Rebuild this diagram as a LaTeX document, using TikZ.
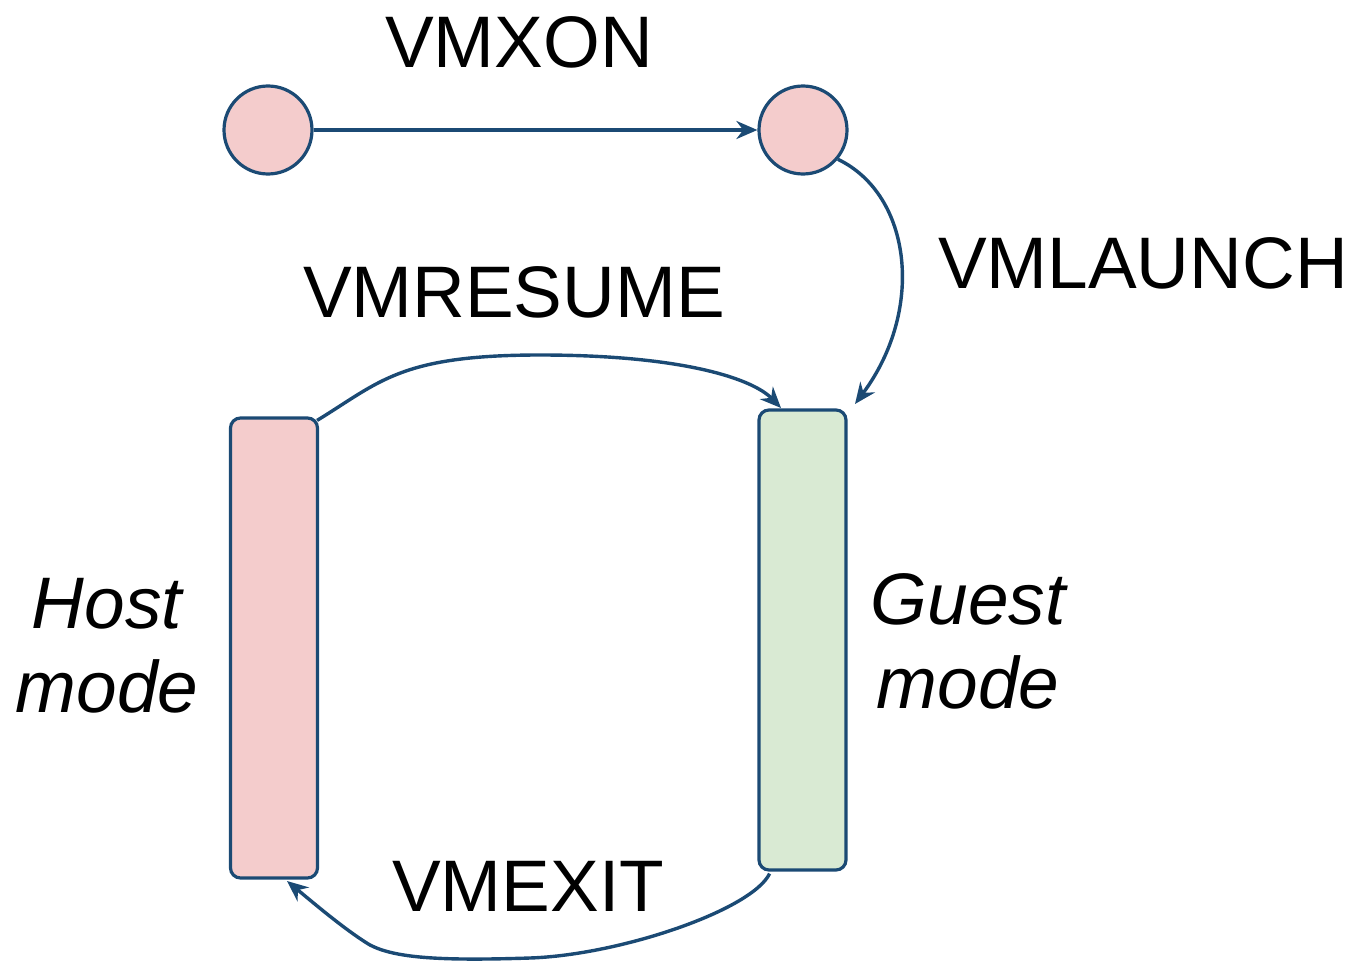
\documentclass[tikz,border=0pt]{standalone}
\usepackage{fontspec}
\setmainfont{Liberation Sans}
\usetikzlibrary{arrows.meta}
\definecolor{edge}{HTML}{1B4A74}
\definecolor{pinkfill}{HTML}{F4CCCC}
\definecolor{greenfill}{HTML}{D9EAD3}
\tikzset{
  state/.style={circle,draw=edge,line width=3.2pt,fill=pinkfill,minimum size=88pt,inner sep=0pt},
  modebox/.style={rectangle,rounded corners=10pt,draw=edge,line width=3.2pt,minimum width=87pt,minimum height=460pt,inner sep=0pt},
  conn/.style={draw=edge,line width=3.4pt,-{Stealth[length=21pt,width=18pt]}},
  lbl/.style={font=\fontsize{73}{84}\selectfont,inner sep=0pt,text=black},
  ilbl/.style={font=\fontsize{73}{84}\selectfont\itshape,inner sep=0pt,text=black,align=center}
}
\begin{document}
\begin{tikzpicture}[x=1pt,y=-1pt]
\useasboundingbox (0,0) rectangle (1353,961);
\node[state] (c1) at (268,130) {};
\node[state] (c2) at (803,130) {};
\node[modebox,fill=pinkfill] (host) at (274,648) {};
\node[modebox,fill=greenfill] (guest) at (802.5,640) {};
\node[lbl] (vmxon) at (519,42) {VMXON};
\node[lbl] (vmlaunch) at (1143,263) {VMLAUNCH};
\node[lbl] (vmresume) at (514,292) {VMRESUME};
\node[lbl] (vmexit) at (528,886) {VMEXIT};
\node[ilbl] (hostlbl) at (107,646) {Host\\mode};
\node[ilbl] (guestlbl) at (968,641) {Guest\\mode};
\coordinate (launchend) at (855,404);
\coordinate (resumeend) at (781,408);
\coordinate (exitend) at (287,881);
\draw[conn] (c1) -- (c2);
\draw[conn] (c2.-40) .. controls (912,195) and (925,310) .. (launchend);
\draw[conn] (host.north east) ++(-2,4) .. controls (380,382) and (400,355) .. (540,355) .. controls (680,355) and (752,378) .. (resumeend);
\draw[conn] (guest.south east) ++(-78,2) .. controls (752,910) and (620,955) .. (530,958) .. controls (440,961) and (395,958) .. (370,945) .. controls (345,930) and (310,900) .. (exitend);
\end{tikzpicture}
\end{document}
